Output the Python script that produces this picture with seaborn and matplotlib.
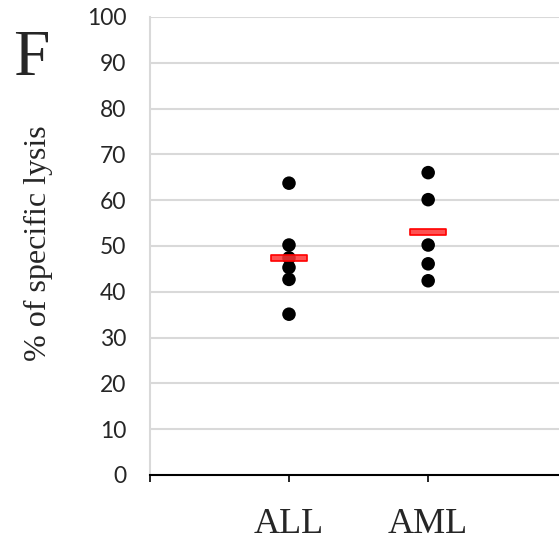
import numpy as np
import pandas as pd
import seaborn as sns
import matplotlib.pyplot as plt
from matplotlib.path import Path

groups = ["ALL", "AML"]
all_lysis = [63.7, 50.2, 47.4, 45.3, 42.7, 35.1]
aml_lysis = [66.0, 60.1, 50.2, 46.1, 42.4]
y_ticks = [0, 10, 20, 30, 40, 50, 60, 70, 80, 90, 100]

df = pd.DataFrame({
    "group": ["ALL"] * len(all_lysis) + ["AML"] * len(aml_lysis),
    "lysis": all_lysis + aml_lysis,
})
df["pos"] = df["group"].map({g: i + 1 for i, g in enumerate(groups)})
means = df.groupby("pos", as_index=False)["lysis"].mean()

sns.set_style("white")
fig = plt.figure(figsize=(5.59, 5.41), dpi=100)
ax = fig.add_axes([0.268, 0.122, 0.732, 0.8468])

# horizontal grid
for t in y_ticks[1:]:
    ax.axhline(t, color="#d9d9d9", lw=1.5, zorder=0)

sns.scatterplot(data=df, x="pos", y="lysis", color="black", s=95,
                edgecolor="none", ax=ax, zorder=3)

# red mean bars
bar = Path([(-2.6, -0.5), (2.6, -0.5), (2.6, 0.5), (-2.6, 0.5), (-2.6, -0.5)],
           [Path.MOVETO, Path.LINETO, Path.LINETO, Path.LINETO, Path.CLOSEPOLY])
sns.scatterplot(data=means, x="pos", y="lysis", marker=bar, s=650,
                color=(1, 0.2, 0.2, 0.85), edgecolor="#ff0000",
                linewidth=1.2, ax=ax, zorder=4)

ax.set_xlim(0, 2.94)
ax.set_ylim(0, 100)
ax.set_yticks(y_ticks)
ax.set_xticks([0, 1, 2])
ax.set_xticklabels(["", "ALL", "AML"], fontfamily="Liberation Serif", fontsize=26)
ax.set_yticklabels([str(t) for t in y_ticks], fontfamily="Lato", fontsize=16.5)
ax.tick_params(axis="y", length=0, pad=17)
ax.tick_params(axis="x", direction="out", length=5, width=1.2, color="black",
               pad=19, bottom=True)

for s in ["top", "right"]:
    ax.spines[s].set_visible(False)
ax.spines["left"].set_color("#d9d9d9")
ax.spines["left"].set_linewidth(1.5)
ax.spines["bottom"].set_color("black")
ax.spines["bottom"].set_linewidth(1.5)
ax.spines["bottom"].set_zorder(5)

ax.set_xlabel("")
ax.set_ylabel("% of specific lysis", fontfamily="Liberation Serif", fontsize=23)
ax.yaxis.set_label_coords(-0.237, 0.507)
fig.text(0.024, 1 - 75 / 541, "F", fontfamily="Liberation Serif", fontsize=47,
         va="baseline", ha="left")

fig.savefig("out.png", dpi=100)
